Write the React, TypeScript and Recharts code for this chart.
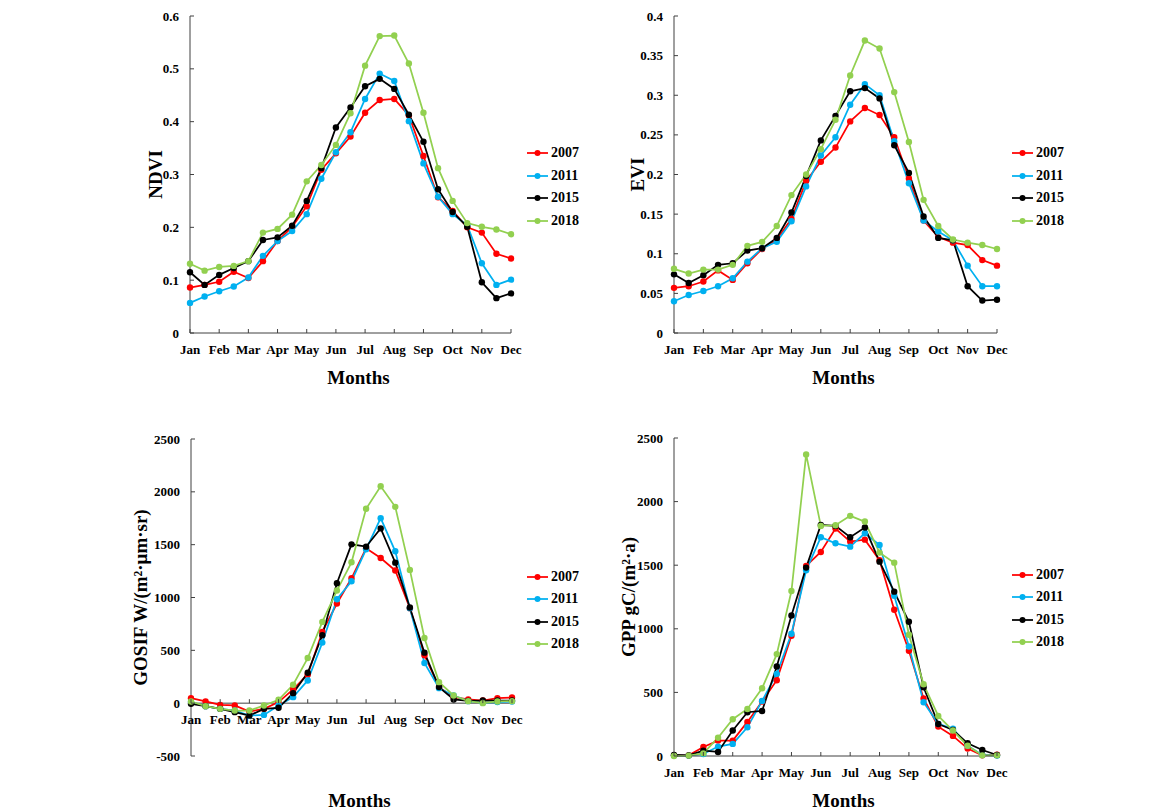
import React from 'react';
import { LineChart, Line, XAxis, YAxis, Legend, ReferenceLine } from 'recharts';

const MONTHS = ['Jan', 'Feb', 'Mar', 'Apr', 'May', 'Jun', 'Jul', 'Aug', 'Sep', 'Oct', 'Nov', 'Dec'];
const PERIODS = [0, 1, 2, 3, 4, 5, 6, 7, 8, 9, 10, 11, 12, 13, 14, 15, 16, 17, 18, 19, 20, 21, 22];
const MONTH_TICKS = [0, 2, 4, 6, 8, 10, 12, 14, 16, 18, 20, 22];
const YEARS = ['2007', '2011', '2015', '2018'];
const COLORS = ['#FF0000', '#00B0F0', '#000000', '#92D050'];

const NDVI_2007 = [0.086, 0.091, 0.097, 0.116, 0.104, 0.136, 0.174, 0.201, 0.240, 0.309, 0.340, 0.372, 0.417, 0.441, 0.443, 0.412, 0.335, 0.257, 0.231, 0.200, 0.190, 0.150, 0.141];
const NDVI_2011 = [0.057, 0.069, 0.079, 0.088, 0.105, 0.146, 0.174, 0.193, 0.225, 0.292, 0.342, 0.380, 0.443, 0.491, 0.477, 0.401, 0.321, 0.258, 0.225, 0.204, 0.132, 0.091, 0.101];
const NDVI_2015 = [0.115, 0.091, 0.110, 0.123, 0.136, 0.176, 0.181, 0.203, 0.250, 0.312, 0.389, 0.427, 0.467, 0.481, 0.462, 0.413, 0.362, 0.272, 0.229, 0.201, 0.096, 0.066, 0.075];
const NDVI_2018 = [0.131, 0.118, 0.125, 0.127, 0.136, 0.190, 0.197, 0.224, 0.287, 0.318, 0.356, 0.416, 0.506, 0.562, 0.563, 0.510, 0.417, 0.312, 0.250, 0.208, 0.201, 0.196, 0.187];

const EVI_2007 = [0.057, 0.059, 0.065, 0.079, 0.067, 0.088, 0.106, 0.118, 0.144, 0.192, 0.216, 0.234, 0.267, 0.284, 0.275, 0.247, 0.195, 0.142, 0.121, 0.114, 0.111, 0.092, 0.085];
const EVI_2011 = [0.040, 0.048, 0.053, 0.059, 0.069, 0.090, 0.107, 0.115, 0.141, 0.185, 0.224, 0.247, 0.288, 0.314, 0.300, 0.242, 0.189, 0.142, 0.128, 0.117, 0.085, 0.059, 0.059];
const EVI_2015 = [0.074, 0.063, 0.073, 0.086, 0.088, 0.104, 0.107, 0.120, 0.152, 0.198, 0.243, 0.274, 0.305, 0.309, 0.296, 0.237, 0.202, 0.147, 0.120, 0.117, 0.059, 0.041, 0.042];
const EVI_2018 = [0.081, 0.075, 0.080, 0.080, 0.086, 0.110, 0.115, 0.135, 0.174, 0.200, 0.232, 0.269, 0.325, 0.369, 0.359, 0.304, 0.241, 0.168, 0.135, 0.118, 0.114, 0.111, 0.106];

const GOSIF_2007 = [47, 16, -16, -22, -79, -54, 10, 130, 272, 674, 943, 1182, 1465, 1374, 1255, 899, 453, 152, 57, 35, 25, 47, 54];
const GOSIF_2011 = [10, -28, -54, -70, -117, -111, -22, 57, 215, 573, 984, 1154, 1456, 1751, 1437, 899, 380, 142, 73, 19, 3, 10, 16];
const GOSIF_2015 = [-6, -28, -54, -85, -117, -54, -44, 95, 288, 643, 1135, 1503, 1481, 1654, 1330, 905, 478, 152, 35, 22, 25, 25, 25];
const GOSIF_2018 = [16, -28, -54, -70, -70, -22, 32, 174, 427, 769, 1066, 1333, 1840, 2053, 1858, 1261, 617, 199, 73, 19, 0, 16, 19];

const GPP_2007 = [5, 5, 71, 121, 121, 268, 428, 596, 945, 1494, 1604, 1788, 1686, 1701, 1539, 1150, 827, 452, 231, 158, 58, 5, 10];
const GPP_2011 = [3, 3, 16, 74, 95, 226, 433, 646, 961, 1460, 1720, 1672, 1646, 1751, 1659, 1260, 861, 423, 252, 215, 81, 8, 3];
const GPP_2015 = [8, 5, 42, 32, 200, 344, 354, 704, 1105, 1481, 1817, 1809, 1720, 1796, 1528, 1292, 1055, 540, 252, 205, 100, 47, 8];
const GPP_2018 = [0, 3, 21, 144, 289, 370, 533, 801, 1297, 2371, 1809, 1814, 1888, 1843, 1599, 1520, 953, 564, 315, 200, 81, 5, 5];

const NDVI_TICKS = [0, 0.1, 0.2, 0.3, 0.4, 0.5, 0.6];
const EVI_TICKS = [0, 0.05, 0.1, 0.15, 0.2, 0.25, 0.3, 0.35, 0.4];
const GOSIF_TICKS = [-500, 0, 500, 1000, 1500, 2000, 2500];
const GPP_TICKS = [0, 500, 1000, 1500, 2000, 2500];

const FONT = "'Times New Roman', 'Liberation Serif', serif";
const AXIS = '#404040';

function buildData(series: number[][]) {
  return PERIODS.map((p, i) => {
    const row: Record<string, number> = { p };
    YEARS.forEach((y, k) => {
      row[y] = series[k][i];
    });
    return row;
  });
}

const XTick = (props: any) => {
  const { x, y, payload, shift = 0 } = props;
  const yy = y + shift;
  return (
    <g>
      <line x1={x} x2={x} y1={yy} y2={yy - 4} stroke={AXIS} strokeWidth={1} />
      <text x={x} y={yy + 20.5} textAnchor="middle" fontFamily={FONT} fontWeight="bold" fontSize={13} fill="#000">
        {MONTHS[payload.value / 2]}
      </text>
    </g>
  );
};

const YTick = (props: any) => {
  const { x, y, payload } = props;
  return (
    <g>
      <line x1={x} x2={x + 4} y1={y} y2={y} stroke={AXIS} strokeWidth={1} />
      <text x={x - 11} y={y + 4.5} textAnchor="end" fontFamily={FONT} fontWeight="bold" fontSize={13} fill="#000">
        {String(payload.value)}
      </text>
    </g>
  );
};

const LegendContent = (props: any) => {
  const { payload } = props;
  return (
    <div>
      {(payload || []).map((e: any) => (
        <div key={e.value} style={{ display: 'flex', alignItems: 'center', height: 22.5 }}>
          <svg width={21} height={8} style={{ marginRight: 3 }}>
            <line x1={0} x2={21} y1={4} y2={4} stroke={e.color} strokeWidth={1.75} />
            <circle cx={10.5} cy={4} r={3} fill={e.color} />
          </svg>
          <span style={{ fontFamily: FONT, fontWeight: 'bold', fontSize: 14, color: '#000', lineHeight: '14px' }}>{e.value}</span>
        </div>
      ))}
    </div>
  );
};

type PanelProps = {
  left: number;
  top: number;
  width: number;
  height: number;
  margin: { top: number; right: number; bottom: number; left: number };
  yWidth: number;
  xHeight: number;
  xLabelOffset: number;
  series: number[][];
  domain: [number, number];
  ticks: number[];
  yLabel: string;
  legendLeft: number;
  legendTop: number;
  zeroAxis?: boolean;
};

const Panel = (p: PanelProps) => {
  const data = buildData(p.series);
  const plotH = p.height - p.margin.top - p.margin.bottom - p.xHeight;
  const shift = p.zeroAxis ? -plotH * (0 - p.domain[0]) / (p.domain[1] - p.domain[0]) : 0;
  return (
    <div style={{ position: 'absolute', left: p.left, top: p.top }}>
      <LineChart width={p.width} height={p.height} data={data} margin={p.margin}>
        <XAxis
          dataKey="p"
          type="number"
          domain={[0, 22]}
          ticks={MONTH_TICKS}
          interval={0}
          height={p.xHeight}
          tickSize={0}
          tickMargin={0}
          axisLine={p.zeroAxis ? false : { stroke: AXIS, strokeWidth: 1 }}
          tickLine={false}
          tick={(tp: any) => <XTick {...tp} shift={shift} />}
          label={{
            value: 'Months',
            position: 'insideBottom',
            offset: p.xLabelOffset,
            dx: 8,
            fontFamily: FONT,
            fontWeight: 'bold',
            fontSize: 19,
            fill: '#000',
          }}
        />
        <YAxis
          type="number"
          domain={p.domain}
          ticks={p.ticks}
          interval={0}
          width={p.yWidth}
          tickSize={0}
          tickMargin={0}
          axisLine={{ stroke: AXIS, strokeWidth: 1 }}
          tickLine={false}
          tick={(tp: any) => <YTick {...tp} />}
          label={{
            value: p.yLabel,
            angle: -90,
            position: 'center',
            fontFamily: FONT,
            fontWeight: 'bold',
            fontSize: 19,
            fill: '#000',
          }}
        />
        {p.zeroAxis && <ReferenceLine y={0} stroke={AXIS} strokeWidth={1} ifOverflow="visible" />}
        <Legend
          layout="vertical"
          align="center"
          verticalAlign="middle"
          content={(lp: any) => <LegendContent {...lp} />}
          wrapperStyle={{ left: p.legendLeft, top: p.legendTop, width: 80, bottom: 'auto', right: 'auto' }}
        />
        {YEARS.map((y, k) => (
          <Line
            key={y}
            dataKey={y}
            name={y}
            stroke={COLORS[k]}
            strokeWidth={1.75}
            dot={{ r: 3.2, fill: COLORS[k], stroke: COLORS[k], strokeWidth: 0 }}
            activeDot={false}
            isAnimationActive={false}
          />
        ))}
      </LineChart>
    </div>
  );
};

export default function App() {
  return (
    <div style={{ position: 'absolute', left: 0, top: 0, width: 1169, height: 812, background: '#fff', overflow: 'hidden' }}>
      <Panel
        left={100} top={0} width={500} height={400}
        margin={{ top: 16, right: 89, bottom: 7, left: 20 }}
        yWidth={70} xHeight={60} xLabelOffset={9}
        series={[NDVI_2007, NDVI_2011, NDVI_2015, NDVI_2018]}
        domain={[0, 0.6]} ticks={NDVI_TICKS} yLabel="NDVI"
        legendLeft={427} legendTop={142}
      />
      <Panel
        left={585} top={0} width={500} height={400}
        margin={{ top: 16, right: 88, bottom: 7, left: 15 }}
        yWidth={74} xHeight={60} xLabelOffset={9}
        series={[EVI_2007, EVI_2011, EVI_2015, EVI_2018]}
        domain={[0, 0.4]} ticks={EVI_TICKS} yLabel="EVI"
        legendLeft={427} legendTop={142}
      />
      <Panel
        left={80} top={400} width={500} height={412}
        margin={{ top: 39, right: 68, bottom: 1, left: 9 }}
        yWidth={102} xHeight={55} xLabelOffset={4}
        series={[GOSIF_2007, GOSIF_2011, GOSIF_2015, GOSIF_2018]}
        domain={[-500, 2500]} ticks={GOSIF_TICKS} yLabel="GOSIF W/(m²·μm·sr)"
        legendLeft={447} legendTop={165.5}
        zeroAxis
      />
      <Panel
        left={575} top={400} width={500} height={412}
        margin={{ top: 38, right: 78, bottom: 1, left: 7 }}
        yWidth={92} xHeight={55} xLabelOffset={4}
        series={[GPP_2007, GPP_2011, GPP_2015, GPP_2018]}
        domain={[0, 2500]} ticks={GPP_TICKS} yLabel="GPP gC/(m²·a)"
        legendLeft={437} legendTop={163.5}
      />
    </div>
  );
}
